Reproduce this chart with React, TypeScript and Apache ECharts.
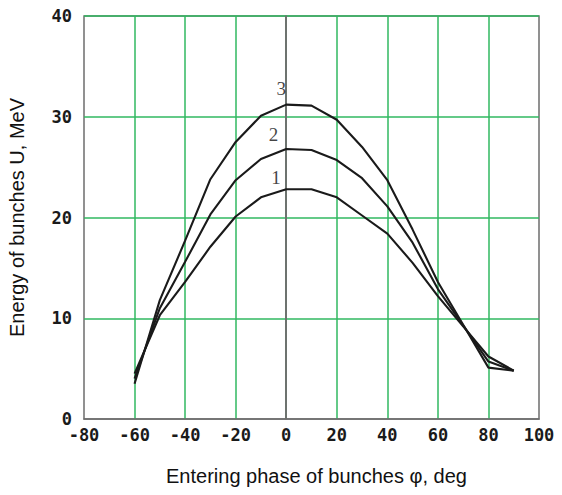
import React, { useEffect, useRef } from "react";
import * as echarts from "echarts";

const phases = [-60, -50, -40, -30, -20, -10, 0, 10, 20, 30, 40, 50, 60, 70, 80, 90];
const curve1 = [4.5, 10.3, 13.6, 17.1, 20.1, 22.0, 22.8, 22.8, 22.0, 20.2, 18.4, 15.5, 12.2, 9.2, 6.2, 4.8];
const curve2 = [4.0, 11.0, 15.6, 20.3, 23.7, 25.8, 26.8, 26.7, 25.7, 23.9, 21.1, 17.5, 12.9, 9.3, 5.7, 4.8];
const curve3 = [3.5, 11.8, 17.7, 23.8, 27.5, 30.1, 31.2, 31.1, 29.7, 27.0, 23.7, 18.8, 13.6, 9.35, 5.1, 4.8];
const curveNames = ["1", "2", "3"];
const labelX = [-4, -5, -2];
const labelY = [24.0, 28.2, 32.8];

const GREEN = "#30b860";
const GRAY = "#6e6e6e";

export default function App() {
  const ref = useRef<HTMLDivElement>(null);
  useEffect(() => {
    if (!ref.current) return;
    const chart = echarts.init(ref.current, null, { renderer: "svg" });
    const curves = [curve1, curve2, curve3];
    const tickFont = {
      fontFamily: "DejaVu Sans Mono",
      fontWeight: "bold" as const,
      fontSize: 17,
      lineHeight: 14,
      color: "#1a1a1a",
    };
    const series: any[] = curves.map((c, i) => ({
      type: "line",
      name: curveNames[i],
      data: phases.map((p, j) => [p, c[j]]),
      showSymbol: false,
      symbol: "none",
      lineStyle: { color: "#1a1a1a", width: 2.1 },
      z: 5,
      ...(i === 0
        ? {
            markLine: {
              silent: true,
              symbol: "none",
              label: { show: false },
              lineStyle: { color: GRAY, width: 1.5, type: "solid" },
              data: [{ xAxis: 0 }],
              z: 1,
            },
          }
        : {}),
    }));
    series.push({
      type: "scatter",
      data: curveNames.map((n, i) => ({ value: [labelX[i], labelY[i]], name: n })),
      symbolSize: 0,
      label: {
        show: true,
        position: "inside",
        formatter: (p: any) => p.name,
        fontFamily: "Liberation Serif",
        fontSize: 19,
        color: "#111111",
      },
      z: 6,
    });
    chart.setOption({
      animation: false,
      backgroundColor: "#ffffff",
      grid: {
        left: 84,
        right: 23,
        top: 16,
        bottom: 76,
        show: true,
        borderColor: GRAY,
        borderWidth: 1.5,
        containLabel: false,
        outerBoundsMode: "none",
      },
      xAxis: {
        type: "value",
        min: -80,
        max: 100,
        interval: 20,
        name: "Entering phase of bunches \u03c6, deg",
        nameLocation: "middle",
        nameGap: 47,
        nameTextStyle: {
          fontFamily: "Liberation Sans",
          fontSize: 20,
          color: "#111",
          padding: [0, 0, 0, 10],
        },
        axisLine: { show: true, lineStyle: { color: GRAY, width: 1.5 } },
        axisTick: { show: false },
        axisLabel: { ...tickFont, margin: 9 },
        splitLine: {
          show: true,
          showMinLine: false,
          showMaxLine: false,
          lineStyle: { color: GREEN, width: 1.5 },
        },
      },
      yAxis: {
        type: "value",
        min: 0,
        max: 40,
        interval: 10,
        name: "Energy of bunches U, MeV",
        nameLocation: "middle",
        nameGap: 57,
        nameTextStyle: {
          fontFamily: "Liberation Sans",
          fontSize: 20,
          color: "#111",
        },
        axisLine: { show: true, lineStyle: { color: GRAY, width: 1.5 } },
        axisTick: { show: false },
        axisLabel: { ...tickFont, margin: 12 },
        splitLine: {
          show: true,
          showMinLine: false,
          showMaxLine: true,
          lineStyle: { color: GREEN, width: 1.5 },
        },
      },
      series,
    });
    return () => chart.dispose();
  }, []);
  return (
    <div
      ref={ref}
      style={{ position: "fixed", left: 0, top: 0, width: 562, height: 495 }}
    />
  );
}
